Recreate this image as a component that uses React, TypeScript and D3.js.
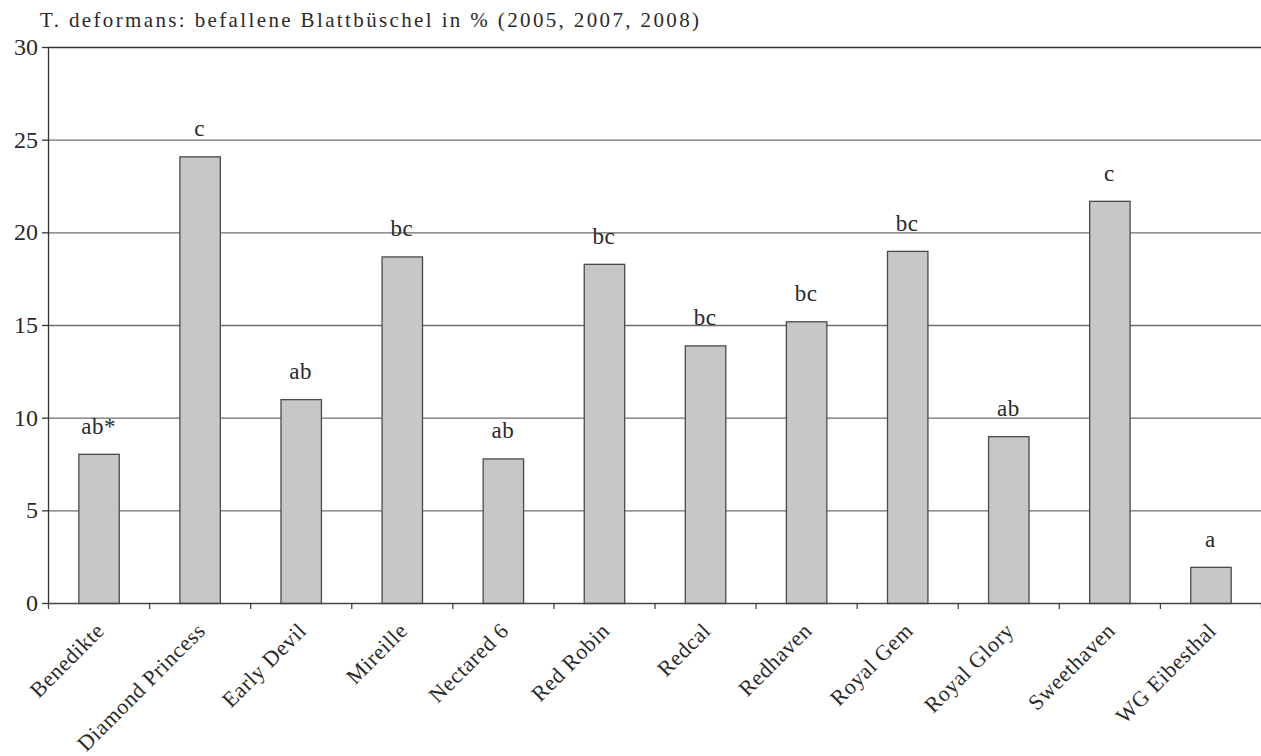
import React, { useRef, useEffect } from "react";
import * as d3 from "d3";

const categories = [
  "Benedikte", "Diamond Princess", "Early Devil", "Mireille", "Nectared 6", "Red Robin",
  "Redcal", "Redhaven", "Royal Gem", "Royal Glory", "Sweethaven", "WG Eibesthal",
];
const values = [8.05, 24.1, 11.0, 18.7, 7.8, 18.3, 13.9, 15.2, 19.0, 9.0, 21.7, 1.95];
const letters = ["ab*", "c", "ab", "bc", "ab", "bc", "bc", "bc", "bc", "ab", "c", "a"];
const yTicks = [0, 5, 10, 15, 20, 25, 30];
const title = "T. deformans: befallene Blattbüschel in % (2005, 2007, 2008)";

const FONT = "'Liberation Serif', serif";

export default function App() {
  const svgRef = useRef<SVGSVGElement>(null);

  const W = 1261, H = 756;
  const margin = { top: 47, right: 0, bottom: 153, left: 48 };
  const width = W - margin.left - margin.right;
  const height = H - margin.top - margin.bottom;

  useEffect(() => {
    const svg = d3.select(svgRef.current);
    svg.selectAll("*").remove();

    svg.append("text")
      .attr("x", 40).attr("y", 27)
      .attr("font-family", FONT).attr("font-size", 21).attr("fill", "#2a2a2a")
      .attr("textLength", 659).attr("lengthAdjust", "spacing")
      .text(title);

    const g = svg.append("g").attr("transform", `translate(${margin.left},${margin.top})`);

    const x = d3.scaleBand<string>().domain(categories).range([0, width]).paddingInner(0.6).paddingOuter(0.3);
    const y = d3.scaleLinear().domain([0, 30]).range([height, 0]);

    // gridlines
    g.selectAll(".grid").data(yTicks.filter(t => t > 0)).enter().append("line")
      .attr("x1", 0).attr("x2", width)
      .attr("y1", d => y(d) + 0.5).attr("y2", d => y(d) + 0.5)
      .attr("stroke", d => d === 30 ? "#333" : "#6e6e6e").attr("stroke-width", 1.3);

    // y axis
    g.append("line").attr("x1", 0.5).attr("x2", 0.5).attr("y1", 0).attr("y2", height)
      .attr("stroke", "#333").attr("stroke-width", 1.3);
    g.selectAll(".ytick").data(yTicks).enter().append("line")
      .attr("x1", -6).attr("x2", 0)
      .attr("y1", d => y(d) + 0.5).attr("y2", d => y(d) + 0.5)
      .attr("stroke", "#333").attr("stroke-width", 1.3);
    g.selectAll(".ylab").data(yTicks).enter().append("text")
      .attr("x", -10).attr("y", d => y(d) + 8)
      .attr("text-anchor", "end")
      .attr("font-family", FONT).attr("font-size", 24).attr("fill", "#2a2a2a")
      .text(d => d);

    // bars
    g.selectAll(".bar").data(values).enter().append("rect")
      .attr("x", (d, i) => x(categories[i])! + 0.5)
      .attr("y", d => y(d) + 0.5)
      .attr("width", x.bandwidth())
      .attr("height", d => height - y(d))
      .attr("fill", "#c6c7c9").attr("stroke", "#4a4a4a").attr("stroke-width", 1.3);

    // letters
    g.selectAll(".let").data(values).enter().append("text")
      .attr("x", (d, i) => x(categories[i])! + x.bandwidth() / 2)
      .attr("y", d => y(d) - 20)
      .attr("text-anchor", "middle")
      .attr("font-family", FONT).attr("font-size", 23).attr("fill", "#2a2a2a")
      .attr("letter-spacing", 0.5)
      .text((d, i) => letters[i]);

    // x axis
    g.append("line").attr("x1", 0).attr("x2", width).attr("y1", height + 0.5).attr("y2", height + 0.5)
      .attr("stroke", "#444").attr("stroke-width", 1.3);
    const step = x.step();
    g.selectAll(".xtick").data(d3.range(categories.length + 1)).enter().append("line")
      .attr("x1", i => i * step + 0.5).attr("x2", i => i * step + 0.5)
      .attr("y1", height).attr("y2", height + 6)
      .attr("stroke", "#444").attr("stroke-width", 1.3);

    g.selectAll(".xlab").data(categories).enter().append("text")
      .attr("transform", d => `translate(${x(d)! + x.bandwidth() / 2 + 7},${height + 29}) rotate(-45)`)
      .attr("text-anchor", "end")
      .attr("font-family", FONT).attr("font-size", 22).attr("fill", "#2a2a2a")
      .attr("letter-spacing", 0.6)
      .text(d => d);
  }, []);

  return (
    <div>
      <svg ref={svgRef} width={W} height={H} style={{ position: "absolute", left: 0, top: 0 }} />
    </div>
  );
}
